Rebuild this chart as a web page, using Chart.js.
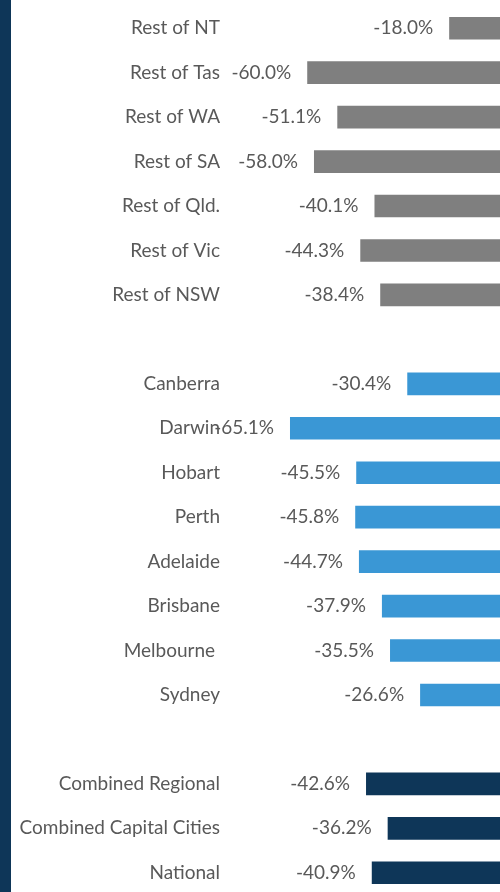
<!DOCTYPE html>
<html>
<head>
<meta charset="utf-8">
<script src="https://cdn.jsdelivr.net/npm/chart.js@4.4.1/dist/chart.umd.min.js"></script>
<style>
  html, body { margin: 0; padding: 0; background: #fff; overflow: hidden; }
  #wrap { position: relative; width: 500px; height: 892px; overflow: hidden; }
  #wrap canvas { position: absolute; left: 0; top: 0; }
  #edge { position: absolute; left: 0; top: 0; width: 11px; height: 892px; background: #0e3658; }
</style>
</head>
<body>
<div id="wrap">
  <canvas id="chart" width="500" height="895"></canvas>
  <div id="edge"></div>
</div>
<script>
// regional areas
const regionalLabels = ['Rest of NT', 'Rest of Tas', 'Rest of WA', 'Rest of SA', 'Rest of Qld.', 'Rest of Vic', 'Rest of NSW'];
const regionalValues = [-18.0, -60.0, -51.1, -58.0, -40.1, -44.3, -38.4];

// capital cities
const capitalLabels = ['Canberra', 'Darwin', 'Hobart', 'Perth', 'Adelaide', 'Brisbane', 'Melbourne ', 'Sydney'];
const capitalValues = [-30.4, -65.1, -45.5, -45.8, -44.7, -37.9, -35.5, -26.6];

// combined figures
const summaryLabels = ['Combined Regional', 'Combined Capital Cities', 'National'];
const summaryValues = [-42.6, -36.2, -40.9];

const groupColors = ['#7f7f7f', '#3a97d5', '#0e3658'];

// build one category list with a blank row between groups
const labels = [];
const values = [];
const colors = [];
[[regionalLabels, regionalValues], [capitalLabels, capitalValues], [summaryLabels, summaryValues]].forEach(function (group, i) {
    if (i > 0) {
        labels.push('');
        values.push(null);
        colors.push('rgba(0,0,0,0)');
    }
    group[0].forEach(function (lab, j) {
        labels.push(lab);
        values.push(group[1][j]);
        colors.push(groupColors[i]);
    });
});

const textColor = '#595959';
const fontFamily = 'Lato';

// value labels to the left of each bar
const valueLabels = {
    id: 'valueLabels',
    afterDatasetsDraw(chart) {
        const ctx = chart.ctx;
        const meta = chart.getDatasetMeta(0);
        ctx.save();
        ctx.font = '19px ' + fontFamily;
        ctx.fillStyle = textColor;
        ctx.textAlign = 'right';
        ctx.textBaseline = 'middle';
        meta.data.forEach(function (bar, i) {
            const v = values[i];
            if (v === null) return;
            ctx.fillText(v.toFixed(1) + '%', bar.x - 16, bar.y);
        });
        ctx.restore();
    }
};

const chartCanvas = document.getElementById('chart').getContext('2d');

new Chart(chartCanvas, {
    type: 'bar',
    data: {
        labels: labels,
        datasets: [{
            data: values,
            backgroundColor: colors,
            borderWidth: 0,
            categoryPercentage: 1,
            barPercentage: 0.51
        }]
    },
    options: {
        indexAxis: 'y',
        responsive: false,
        animation: false,
        layout: {
            padding: { left: 0, right: 0, top: 6, bottom: 0 }
        },
        scales: {
            x: {
                display: false,
                min: -82.85,
                max: -2.96
            },
            y: {
                grid: { display: false, drawTicks: false },
                border: { display: false },
                ticks: {
                    padding: 10,
                    color: textColor,
                    font: { family: fontFamily, size: 19 }
                },
                afterFit(scale) {
                    scale.width = 230;
                    scale.paddingTop = 0;
                    scale.paddingBottom = 0;
                }
            }
        },
        plugins: {
            legend: { display: false },
            tooltip: { enabled: false }
        }
    },
    plugins: [valueLabels]
});
</script>
</body>
</html>
